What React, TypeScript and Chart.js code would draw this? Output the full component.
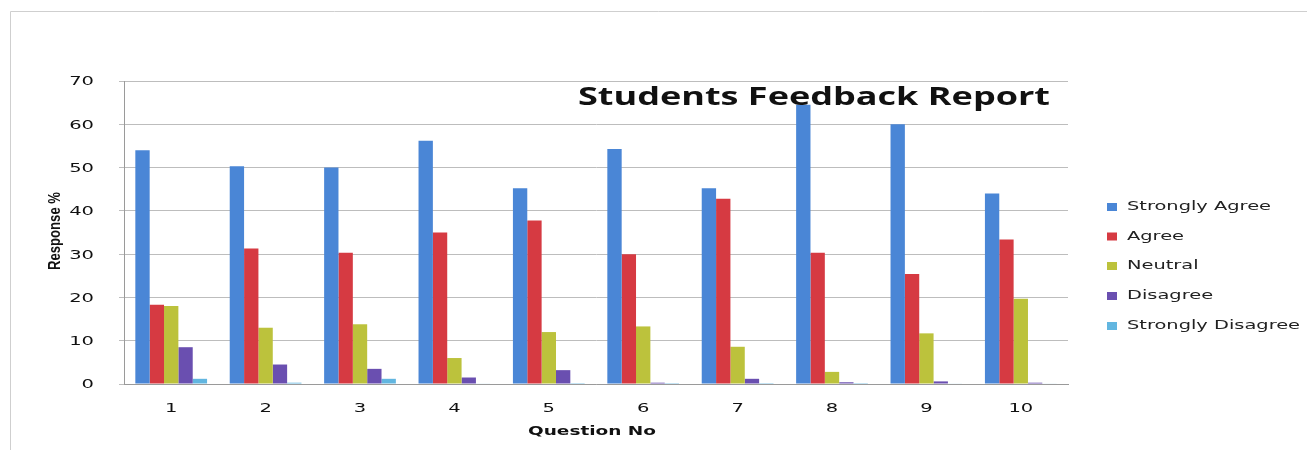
import React, { useEffect, useRef } from "react";
import { Chart, registerables } from "chart.js";

Chart.register(...registerables);

const categories = ["1", "2", "3", "4", "5", "6", "7", "8", "9", "10"];
const seriesNames = ["Strongly Agree", "Agree", "Neutral", "Disagree", "Strongly Disagree"];
const stronglyAgree = [54, 50.3, 50, 56.2, 45.2, 54.3, 45.2, 64.5, 60, 44];
const agree = [18.3, 31.3, 30.3, 35, 37.8, 30, 42.8, 30.3, 25.4, 33.4];
const neutral = [18, 13, 13.8, 6, 12, 13.3, 8.6, 2.8, 11.7, 19.7];
const disagree = [8.5, 4.5, 3.5, 1.5, 3.2, 0.3, 1.2, 0.4, 0.6, 0.3];
const stronglyDisagree = [1.2, 0.3, 1.2, 0.1, 0.2, 0.2, 0.2, 0.2, 0.1, 0.1];
const yTicks = [0, 10, 20, 30, 40, 50, 60, 70];
const chartTitle = "Students Feedback Report";
const xTitle = "Question No";
const yTitle = "Response %";

const colors = ["#4a86d6", "#d63a42", "#bcc23c", "#6a4fb0", "#62b6e0"];

export default function App() {
  const ref = useRef<HTMLCanvasElement | null>(null);

  useEffect(() => {
    const canvas = ref.current!;
    const drawPlugin = {
      id: "customText",
      beforeDraw(chart: any) {
        const ctx = chart.ctx;
        ctx.save();
        ctx.strokeStyle = "#cfcfcf";
        ctx.lineWidth = 1;
        ctx.beginPath();
        ctx.moveTo(2.5, 442);
        ctx.lineTo(2.5, 3.5);
        ctx.lineTo(1299, 3.5);
        ctx.stroke();
        ctx.restore();
      },
      afterDraw(chart: any) {
        const ctx = chart.ctx;
        const area = chart.chartArea;
        const xs = chart.scales.x;
        const ysc = chart.scales.y;
        ctx.save();
        ctx.fillStyle = "#111";
        ctx.textBaseline = "middle";

        const stretched = (text: string, x: number, y: number, sx: number, align: CanvasTextAlign) => {
          ctx.save();
          ctx.translate(x, y);
          ctx.scale(sx, 1);
          ctx.textAlign = align;
          ctx.fillText(text, 0, 0);
          ctx.restore();
        };

        // tick labels
        ctx.font = "13px 'DejaVu Sans'";
        yTicks.forEach((v) => {
          stretched(String(v), area.left - 30, ysc.getPixelForValue(v) + 1, 1.5, "right");
        });
        categories.forEach((c, i) => {
          stretched(c, xs.getPixelForValue(i), 401, 1.5, "center");
        });

        // title
        ctx.font = "bold 25px 'Open Sans'";
        const tw = ctx.measureText(chartTitle).width;
        stretched(chartTitle, 570, 90, 472 / tw, "left");

        // x title
        ctx.font = "bold 12px 'DejaVu Sans'";
        const xw = ctx.measureText(xTitle).width;
        stretched(xTitle, 584, 424, 128 / xw, "center");

        // y title
        ctx.font = "bold 16px 'Liberation Sans'";
        const yw = ctx.measureText(yTitle).width;
        ctx.save();
        ctx.translate(48, 223);
        ctx.rotate(-Math.PI / 2);
        ctx.scale(78 / yw, 1);
        ctx.textAlign = "center";
        ctx.fillText(yTitle, 0, 0);
        ctx.restore();

        // legend
        ctx.font = "12.5px 'DejaVu Sans'";
        const lw = ctx.measureText(seriesNames[0]).width;
        const lsx = 144 / lw;
        const ly = [199, 228.5, 258, 288, 318];
        seriesNames.forEach((name, i) => {
          ctx.fillStyle = colors[i];
          ctx.fillRect(1099, ly[i] - 4, 10, 8);
          ctx.fillStyle = "#222";
          stretched(name, 1119, ly[i], lsx, "left");
        });
        ctx.restore();
      },
    };

    const chart = new Chart(canvas, {
      type: "bar",
      data: {
        labels: categories,
        datasets: [stronglyAgree, agree, neutral, disagree, stronglyDisagree].map((d, i) => ({
          label: seriesNames[i],
          data: d,
          backgroundColor: colors[i],
          borderWidth: 0,
          categoryPercentage: 0.76,
          barPercentage: 1,
        })),
      },
      options: {
        animation: false,
        responsive: false,
        devicePixelRatio: 1,
        layout: { padding: { left: 0, right: 240, top: 73, bottom: 0 } },
        plugins: {
          legend: { display: false },
          title: { display: false },
          tooltip: { enabled: false },
        },
        scales: {
          x: {
            grid: { display: false },
            border: { display: true, color: "#9a9a9a", width: 1 },
            ticks: { display: false },
            afterFit(scale: any) {
              scale.height = 67;
            },
          },
          y: {
            min: 0,
            max: 70,
            afterBuildTicks(scale: any) {
              scale.ticks = yTicks.map((v) => ({ value: v }));
            },
            grid: { color: "#bdbdbd", lineWidth: 1, tickLength: 5 },
            border: { display: true, color: "#9a9a9a", width: 1 },
            ticks: { display: false },
            afterFit(scale: any) {
              scale.width = 116;
            },
          },
        },
      },
      plugins: [drawPlugin],
    });
    return () => chart.destroy();
  }, []);

  return (
    <div style={{ width: 1300, height: 443 }}>
      <canvas ref={ref} width={1300} height={443} style={{ display: "block", width: 1300, height: 443 }} />
    </div>
  );
}
